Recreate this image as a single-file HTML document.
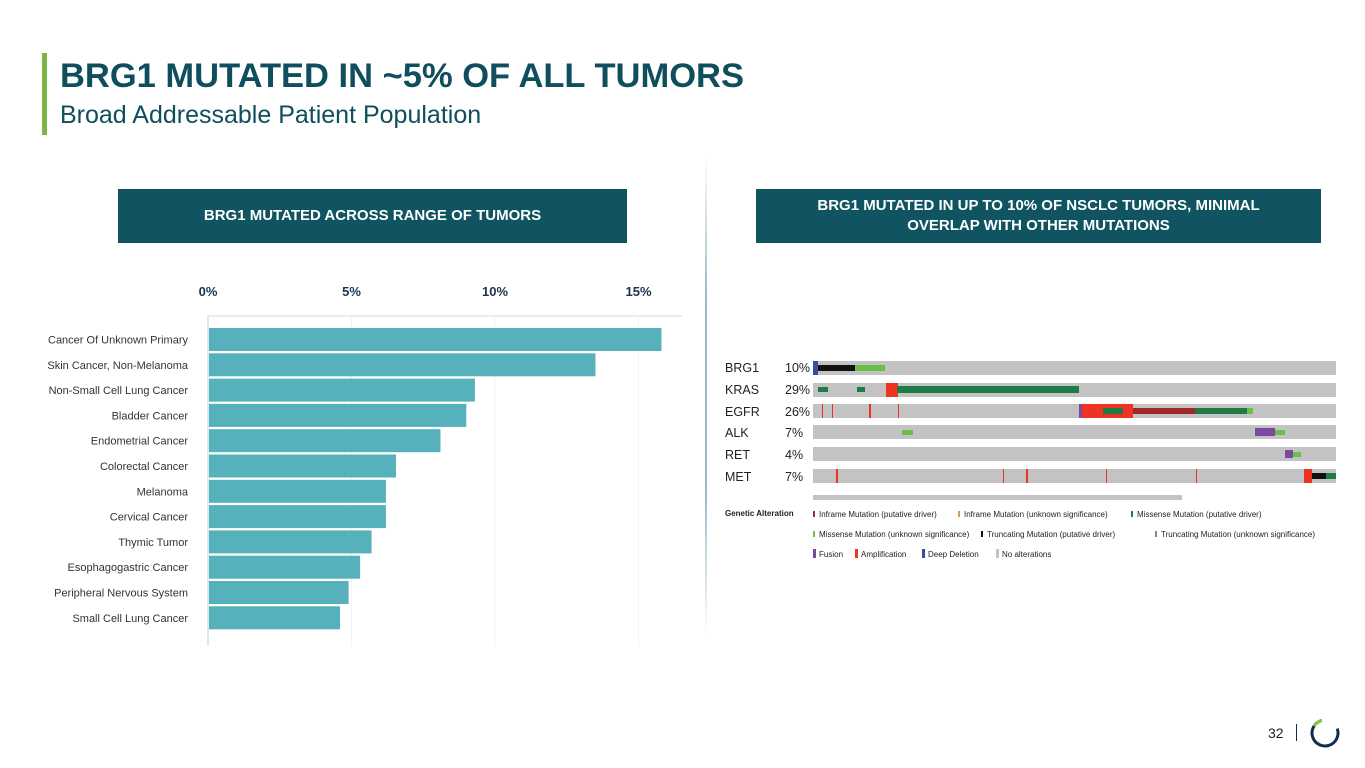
<!DOCTYPE html>
<html><head><meta charset="utf-8"><style>
body{margin:0;width:1365px;height:768px;background:#fff;font-family:"Liberation Sans",sans-serif;position:relative;overflow:hidden}
.abs{position:absolute}
.hdr{background:#0f5460;color:#fff;font-weight:bold;font-size:15px;text-align:center;display:flex;align-items:center;justify-content:center;line-height:20px}
</style></head><body>
<div class="abs" style="left:42px;top:53px;width:5px;height:82px;background:#7ab648"></div>
<div class="abs" style="left:60px;top:57px;font-size:34.5px;font-weight:bold;color:#0f4e5c">BRG1 MUTATED IN ~5% OF ALL TUMORS</div>
<div class="abs" style="left:60px;top:101px;font-size:25px;color:#0f4e5c">Broad Addressable Patient Population</div>
<div class="abs hdr" style="left:118px;top:189px;width:509px;height:54px">BRG1 MUTATED ACROSS RANGE OF TUMORS</div>
<div class="abs hdr" style="left:756px;top:189px;width:565px;height:54px">BRG1 MUTATED IN UP TO 10% OF NSCLC TUMORS, MINIMAL<br>OVERLAP WITH OTHER MUTATIONS</div>
<div class="abs" style="left:705px;top:155px;width:2px;height:480px;background:linear-gradient(#fff,#9bb8c4 30%,#9bb8c4 70%,#fff)"></div>

<svg class="abs" style="left:0;top:0" width="1365" height="768" id="chart"></svg>

<svg class="abs" style="left:0;top:0" width="1365" height="768">
<g font-family="Liberation Sans,sans-serif" font-size="12.5" fill="#222">
<text x="725" y="372">BRG1</text><text x="785" y="372">10%</text>
<text x="725" y="394">KRAS</text><text x="785" y="394">29%</text>
<text x="725" y="416">EGFR</text><text x="785" y="416">26%</text>
<text x="725" y="437">ALK</text><text x="785" y="437">7%</text>
<text x="725" y="459">RET</text><text x="785" y="459">4%</text>
<text x="725" y="481">MET</text><text x="785" y="481">7%</text>
</g>
<g fill="#c3c3c3">
<rect x="813" y="361" width="523" height="14"/><rect x="813" y="383" width="523" height="14"/>
<rect x="813" y="404" width="523" height="14"/><rect x="813" y="425" width="523" height="14"/>
<rect x="813" y="447" width="523" height="14"/><rect x="813" y="469" width="523" height="14"/>
<rect x="813" y="495" width="369" height="5"/>
</g>
<rect x="813" y="361" width="5" height="14" fill="#3a4ba0"/>
<rect x="818" y="365" width="37" height="6" fill="#111"/>
<rect x="855" y="365" width="30" height="6" fill="#6cc04a"/>
<rect x="886" y="383" width="12" height="14" fill="#e32"/>
<rect x="897" y="386" width="182" height="7" fill="#1e7b45"/>
<rect x="818" y="387" width="10" height="5" fill="#1e7b45"/><rect x="857" y="387" width="8" height="5" fill="#1e7b45"/>
<rect x="1082" y="404" width="51" height="14" fill="#e32"/>
<rect x="1133" y="408" width="62" height="6" fill="#a02828"/>
<rect x="1195" y="408" width="52" height="6" fill="#1e7b45"/>
<rect x="1247" y="408" width="6" height="6" fill="#6cc04a"/>
<rect x="1103" y="408" width="20" height="6" fill="#1e7b45"/>
<rect x="1079" y="404" width="3" height="14" fill="#7a4aa0"/>
<rect x="1255" y="428" width="20" height="8" fill="#7a4aa0"/><rect x="1275" y="430" width="10" height="5" fill="#6cc04a"/>
<rect x="902" y="430" width="11" height="5" fill="#6cc04a"/>
<rect x="1285" y="450" width="8" height="8" fill="#7a4aa0"/><rect x="1293" y="452" width="8" height="5" fill="#6cc04a"/>
<rect x="1304" y="469" width="8" height="14" fill="#e32"/>
<rect x="1312" y="473" width="14" height="6" fill="#111"/><rect x="1326" y="473" width="10" height="6" fill="#1e7b45"/>
<g fill="#e32"><rect x="836" y="469" width="2" height="14"/><rect x="1003" y="469" width="1" height="14"/><rect x="1026" y="469" width="2" height="14"/><rect x="1106" y="469" width="1" height="14"/><rect x="1196" y="469" width="1" height="14"/><rect x="822" y="404" width="1" height="14"/><rect x="832" y="404" width="1" height="14"/><rect x="869" y="404" width="2" height="14"/><rect x="898" y="404" width="1" height="14"/></g>
<g font-family="Liberation Sans,sans-serif" font-size="8" fill="#222">
<text x="725" y="516" font-weight="bold">Genetic Alteration</text>
<rect x="813" y="511" width="2" height="6" fill="#a02828"/><text x="819" y="517">Inframe Mutation (putative driver)</text>
<rect x="958" y="511" width="2" height="6" fill="#c9a060"/><text x="964" y="517">Inframe Mutation (unknown significance)</text>
<rect x="1131" y="511" width="2" height="6" fill="#1e7b45"/><text x="1137" y="517">Missense Mutation (putative driver)</text>
<rect x="813" y="531" width="2" height="6" fill="#6cc04a"/><text x="819" y="537">Missense Mutation (unknown significance)</text>
<rect x="981" y="531" width="2" height="6" fill="#111"/><text x="987" y="537">Truncating Mutation (putative driver)</text>
<rect x="1155" y="531" width="2" height="6" fill="#888"/><text x="1161" y="537">Truncating Mutation (unknown significance)</text>
<rect x="813" y="549" width="3" height="9" fill="#7a4aa0"/><text x="819" y="557">Fusion</text>
<rect x="855" y="549" width="3" height="9" fill="#e32"/><text x="861" y="557">Amplification</text>
<rect x="922" y="549" width="3" height="9" fill="#3a4ba0"/><text x="928" y="557">Deep Deletion</text>
<rect x="996" y="549" width="3" height="9" fill="#c3c3c3"/><text x="1002" y="557">No alterations</text>
</g>
</svg>

<div class="abs" style="left:1268px;top:725px;font-size:14px;color:#222">32</div>
<div class="abs" style="left:1296px;top:724px;width:1px;height:17px;background:#0f2e4c"></div>
<svg class="abs" style="left:1308px;top:716px" width="34" height="34">
<circle cx="17" cy="17" r="13" fill="none" stroke="#0f2e4c" stroke-width="3" stroke-dasharray="62 20" transform="rotate(-20 17 17)"/>
<path d="M6 10 A13 13 0 0 1 14 4.3" fill="none" stroke="#8cc63f" stroke-width="3"/>
</svg>

<script>
const categories=["Cancer Of Unknown Primary","Skin Cancer, Non-Melanoma","Non-Small Cell Lung Cancer","Bladder Cancer","Endometrial Cancer","Colorectal Cancer","Melanoma","Cervical Cancer","Thymic Tumor","Esophagogastric Cancer","Peripheral Nervous System","Small Cell Lung Cancer"];
const values=[15.8,13.5,9.3,9.0,8.1,6.55,6.2,6.2,5.7,5.3,4.9,4.6];
const ticks=[0,5,10,15];
const tickLabels=["0%","5%","10%","15%"];
const chartSvg=document.getElementById('chart');
const NS='http://www.w3.org/2000/svg';
const x0=208,pxPer=28.7,y0=328,step=25.3,bh=23;
const xs=v=>x0+v*pxPer;
const ys=i=>y0+i*step;
function mk(t,a){const e=document.createElementNS(NS,t);for(const k in a)e.setAttribute(k,a[k]);chartSvg.appendChild(e);return e;}
const axisLine=mk('line',{x1:x0,y1:316,x2:682,y2:316,stroke:'#e3eff4','stroke-width':2});


ticks.forEach((t,i)=>{
  const g=mk('line',{x1:xs(t),y1:316,x2:xs(t),y2:646,stroke:i==0?'#dbe8ee':'#eef3f6','stroke-width':i==0?2:1});
  
  
  const tx=mk('text',{x:xs(t),y:296,'text-anchor':'middle','font-size':13,'font-weight':'bold',fill:'#1a3550','font-family':'Liberation Sans,sans-serif'});
  tx.textContent=tickLabels[i];
  
  
});
categories.forEach((c,i)=>{
  const r=mk('rect',{x:x0+1,y:ys(i),width:xs(values[i])-x0-1,height:bh,fill:'#57b1bc'});
  
  
  const t=mk('text',{x:188,y:ys(i)+bh/2+4,'text-anchor':'end','font-size':11,fill:'#333','font-family':'Liberation Sans,sans-serif'});
  t.textContent=c;
  
  
});
</script>
</body></html>
